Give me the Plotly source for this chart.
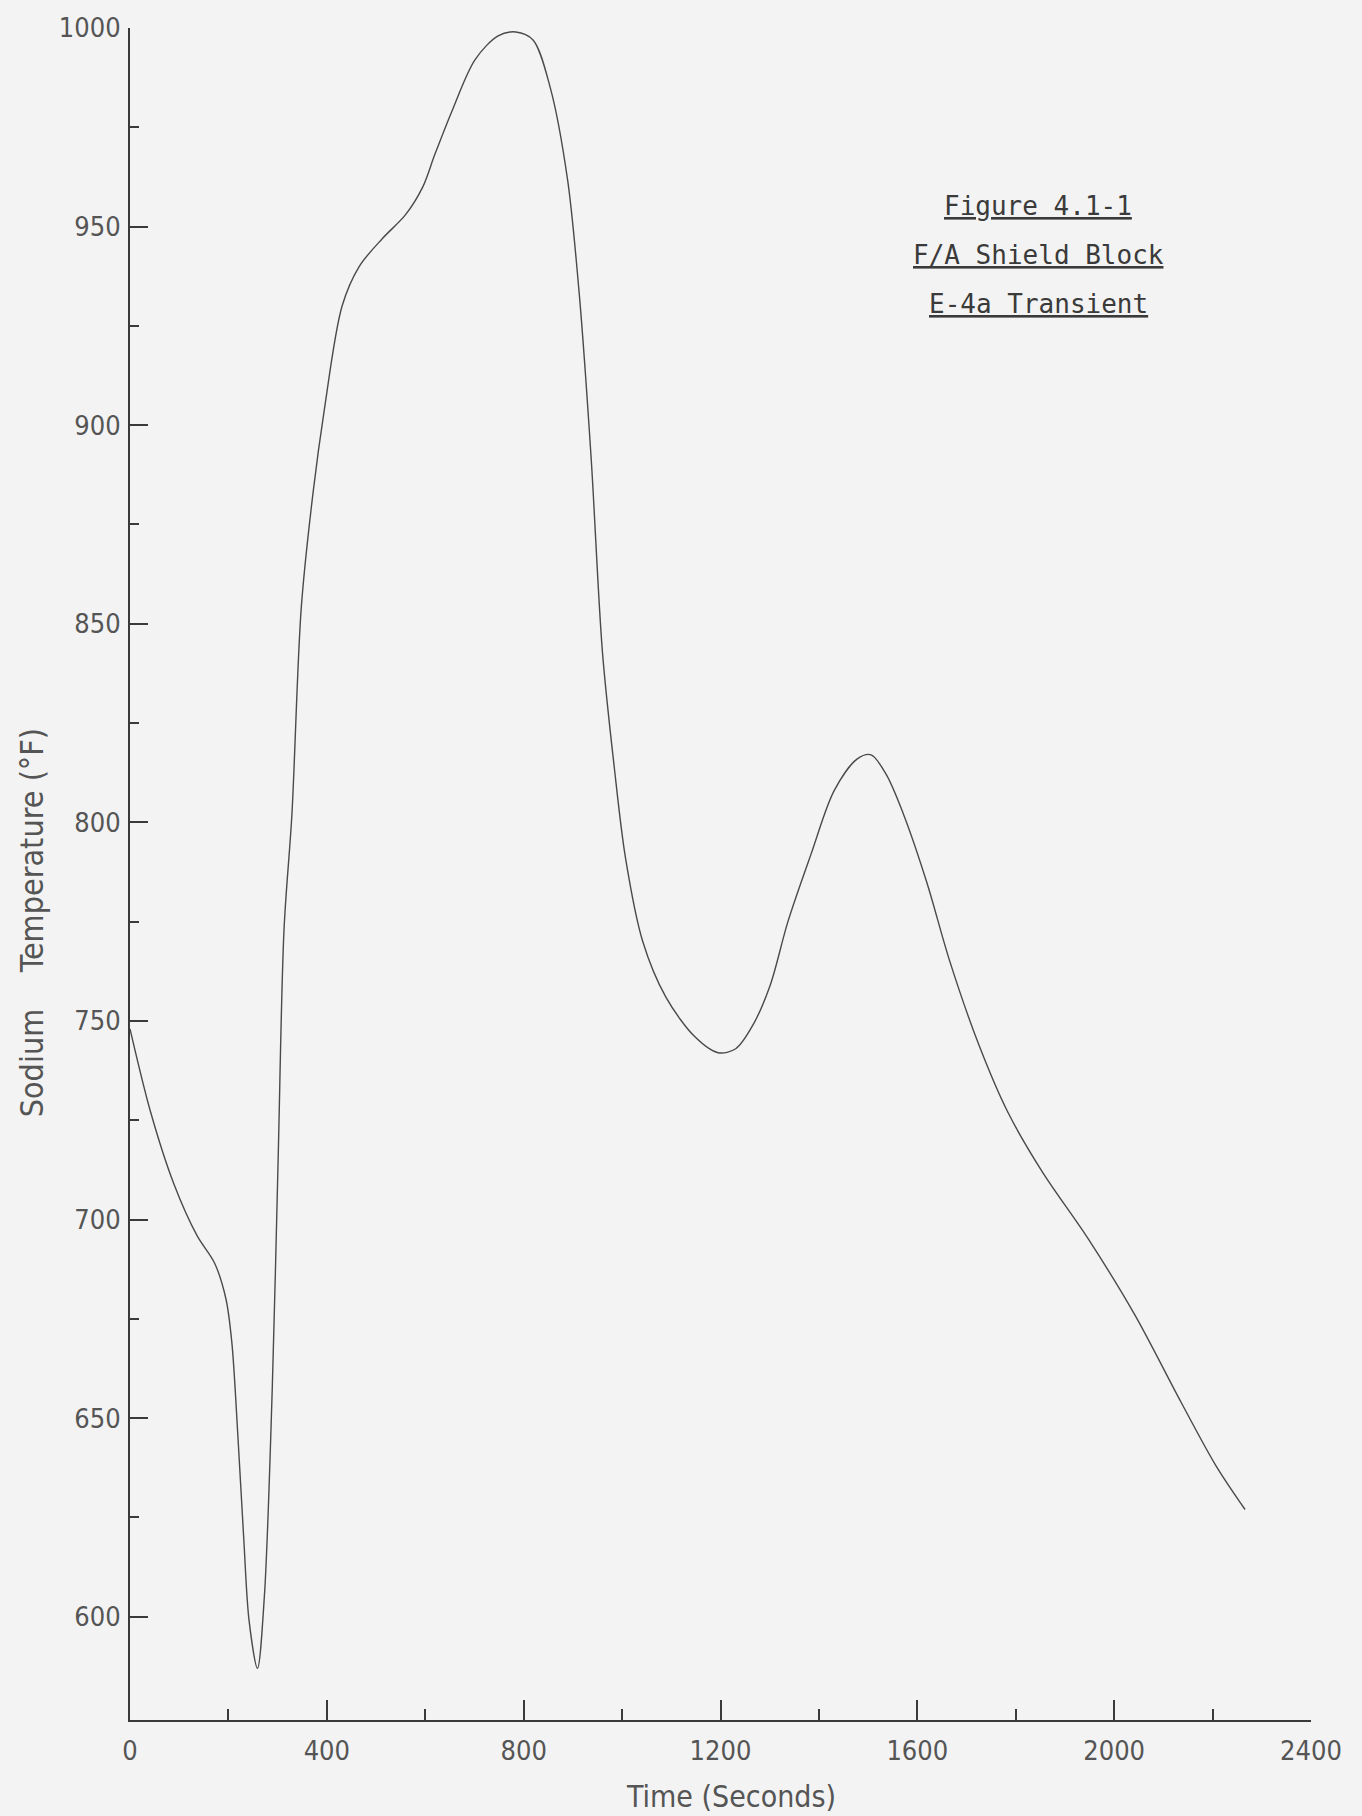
import plotly.graph_objects as go

# Data
time_s = [0, 42, 89, 136, 172, 195, 207, 219, 231, 242, 259, 273, 289, 301, 313, 329, 348, 372,
          395, 431, 466, 513, 560, 595, 619, 654, 701, 748, 784, 819, 854, 889, 913, 937, 960,
          984, 1007, 1042, 1089, 1148, 1195, 1231, 1266, 1301, 1337, 1384, 1431, 1478, 1506,
          1537, 1572, 1619, 1666, 1725, 1784, 1854, 1948, 2042, 2136, 2207, 2266]
temp_f = [748, 727, 709, 696, 689, 680, 669, 646, 620, 599, 587, 605, 657, 715, 773, 802, 854, 883,
          904, 930, 940, 947, 953, 960, 968, 979, 992, 998, 999, 997, 985, 962, 933, 892, 843,
          814, 791, 770, 756, 746, 742, 743, 749, 759, 775, 792, 808, 816, 817,
          812, 802, 785, 765, 744, 727, 712, 695, 676, 654, 638, 627]

x_ticks = [0, 400, 800, 1200, 1600, 2000, 2400]
x_minor = [200, 600, 1000, 1400, 1800, 2200]
y_ticks = [600, 650, 700, 750, 800, 850, 900, 950, 1000]
y_minor = [625, 675, 725, 775, 825, 875, 925, 975]
title_lines = ["Figure 4.1-1", "F/A Shield Block", "E-4a Transient"]

W, H = 1362, 1816
L, R, T, B = 130, 51, 21, 96
pw, ph = W - L - R, H - T - B

font_fam = "Liberation Sans Narrow, DejaVu Sans Condensed, sans-serif"
tick_font = dict(family=font_fam, size=27, color="#555555")
axis_color = "#3a3a3a"

fig = go.Figure()
fig.add_trace(go.Scatter(x=time_s, y=temp_f, mode="lines",
                         line=dict(color="#4a4a4a", width=1.4, shape="spline", smoothing=0.9),
                         showlegend=False, hoverinfo="skip"))

fig.update_layout(
    width=W, height=H,
    margin=dict(l=L, r=R, t=T, b=B),
    paper_bgcolor="#f3f3f3", plot_bgcolor="#f3f3f3",
    xaxis=dict(range=[0, 2400], tickvals=x_ticks, ticktext=[str(v) for v in x_ticks],
               ticks="inside", ticklen=20, tickwidth=2, tickcolor=axis_color,
               minor=dict(tickvals=x_minor, ticks="inside", ticklen=11, tickwidth=2, tickcolor=axis_color),
               showline=True, linecolor=axis_color, linewidth=2, showgrid=False, zeroline=False,
               tickfont=tick_font, ticklabelstandoff=6),
    yaxis=dict(range=[574, 1000], tickvals=y_ticks, ticktext=[str(v) for v in y_ticks],
               ticks="inside", ticklen=18, tickwidth=2, tickcolor=axis_color,
               minor=dict(tickvals=y_minor, ticks="inside", ticklen=9, tickwidth=2, tickcolor=axis_color),
               showline=True, linecolor=axis_color, linewidth=2, showgrid=False, zeroline=False,
               tickfont=tick_font, ticklabelstandoff=2),
)

# Axis titles as annotations
fig.add_annotation(text="Time (Seconds)", xref="paper", yref="paper",
                   x=(731 - L) / pw, y=(H - B - 1797) / ph, showarrow=False,
                   xanchor="center", yanchor="middle",
                   font=dict(family=font_fam, size=30, color="#555555"))
fig.add_annotation(text="Sodium    Temperature (°F)", xref="paper", yref="paper",
                   x=(32 - L) / pw, y=(H - B - 920) / ph, showarrow=False, textangle=-90,
                   xanchor="center", yanchor="middle",
                   font=dict(family=font_fam, size=32, color="#555555"))

# Figure caption block
cap_y = [200, 249, 298]
for line, yy in zip(title_lines, cap_y):
    fig.add_annotation(text="<u>" + line + "</u>", xref="paper", yref="paper",
                       x=(1038 - L) / pw, y=(H - B - yy) / ph, showarrow=False,
                       xanchor="center", yanchor="middle",
                       font=dict(family="DejaVu Sans Mono, monospace", size=26, color="#3a3a3a"))

fig.write_html("out.html", config={"displayModeBar": False},
               post_script="document.body.style.margin='0';")
